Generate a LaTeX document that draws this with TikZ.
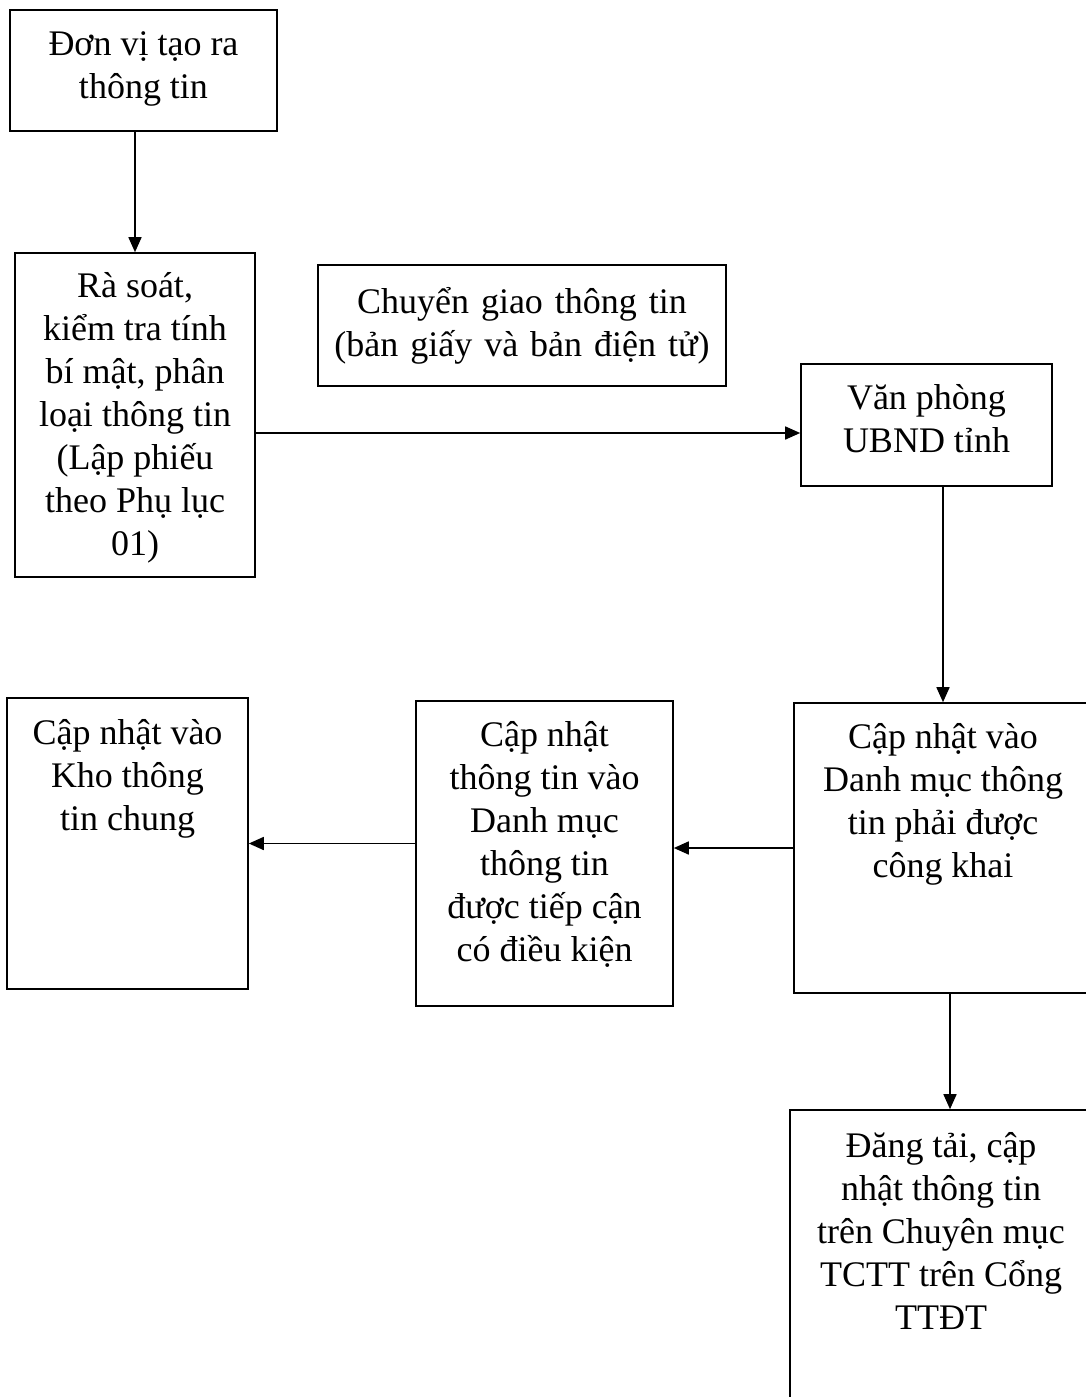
\documentclass[tikz,border=0pt]{standalone}
\usepackage{fontspec}
\setmainfont{Liberation Serif}
\usetikzlibrary{arrows.meta}

\begin{document}
\begin{tikzpicture}[x=0.5pt, y=-0.5pt]
\tikzset{hop/.style n args={3}{draw, line width=0.8pt, inner sep=0pt, font=\fontsize{18}{21.5}\selectfont,
  execute at begin node={\begin{minipage}[t][#2][t]{#1}\centering\vspace*{#3}\strut},
  execute at end node={\end{minipage}}},
  hopgiua/.style n args={2}{draw, line width=0.8pt, inner sep=0pt, font=\fontsize{18}{21.5}\selectfont,
  text width=#1, minimum height=#2, align=center},
  muiten/.style={-{Triangle[length=7.5pt,width=6.5pt]}, line width=0.8pt}}
\useasboundingbox (0,0) rectangle (1086,1397);
\clip (0,0) rectangle (1086,1397);
\node[hop={133.5pt}{60.5pt}{7.5pt}] (N1) at (143.5,70.5) {Đơn vị tạo ra\\ thông tin};
\node[hop={120pt}{162pt}{7pt}] (N2) at (135,415) {Rà soát,\\ kiểm tra tính\\ bí mật, phân\\ loại thông tin\\ (Lập phiếu\\ theo Phụ lục\\ 01)};
\node[hopgiua={204pt}{60.5pt}] (N3) at (522,325.5) {Chuyển giao thông tin\\ (bản giấy và bản điện tử)};
\node[hop={125.5pt}{61pt}{7.5pt}] (N4) at (926.5,425) {Văn phòng\\ UBND tỉnh};
\node[hop={149pt}{145pt}{7.5pt}] (N5) at (943,848) {Cập nhật vào\\ Danh mục thông\\ tin phải được\\ công khai};
\node[hop={128.5pt}{152.5pt}{7.5pt}] (N6) at (544.5,853.5) {Cập nhật\\ thông tin vào\\ Danh mục\\ thông tin\\ được tiếp cận\\ có điều kiện};
\node[hop={120.5pt}{145.5pt}{8pt}] (N7) at (127.5,843.5) {Cập nhật vào\\ Kho thông\\ tin chung};
\node[hop={151pt}{160pt}{8.5pt}] (N8) at (941,1270) {Đăng tải, cập\\ nhật thông tin\\ trên Chuyên mục\\ TCTT trên Cổng\\ TTĐT};
\coordinate (vao4) at ([yshift=-4pt]N4.west);
\coordinate (ra5) at ([xshift=3.5pt]N5.south);
\draw[muiten] (N2.north |- N1.south) -- (N2.north);
\draw[muiten] (N2.east |- vao4) -- (vao4);
\draw[muiten] (N5.north |- N4.south) -- (N5.north);
\draw[muiten] (N5.west) -- (N5.west -| N6.east);
\draw[muiten] (N6.west |- N7.east) -- (N7.east);
\draw[muiten] (ra5) -- (ra5 |- N8.north);
\end{tikzpicture}
\end{document}
